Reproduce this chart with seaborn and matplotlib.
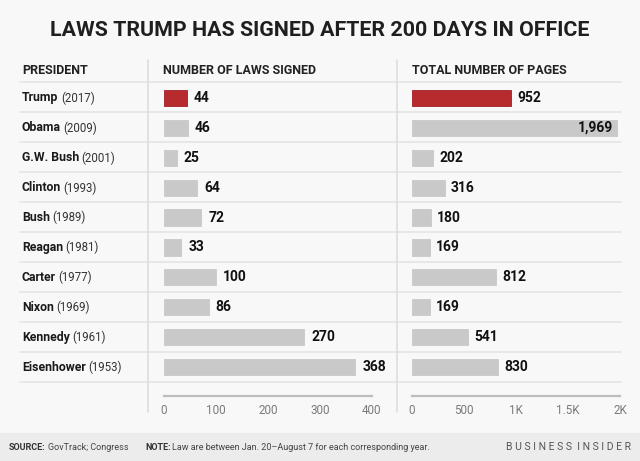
import matplotlib
matplotlib.use("Agg")
import matplotlib.pyplot as plt
from matplotlib.lines import Line2D
import seaborn as sns
import pandas as pd

presidents = ["Trump", "Obama", "G.W. Bush", "Clinton", "Bush", "Reagan",
              "Carter", "Nixon", "Kennedy", "Eisenhower"]
years = ["2017", "2009", "2001", "1993", "1989", "1981", "1977", "1969", "1961", "1953"]
laws = [44, 46, 25, 64, 72, 33, 100, 86, 270, 368]
pages = [952, 1969, 202, 316, 180, 169, 812, 169, 541, 830]
laws_ticks = [0, 100, 200, 300, 400]
laws_tick_labels = ["0", "100", "200", "300", "400"]
pages_ticks = [0, 500, 1000, 1500, 2000]
pages_tick_labels = ["0", "500", "1K", "1.5K", "2K"]

title = "LAWS TRUMP HAS SIGNED AFTER 200 DAYS IN OFFICE"

sns.set_theme(style="white")
plt.rcParams['font.family'] = ['Roboto', 'DejaVu Sans']

W, H = 640, 461
BG = "#f8f8f8"
RED = "#b72a2e"
GRAY = "#c9c9c9"
LINE = "#e4e4e4"

fig = plt.figure(figsize=(W / 100, H / 100), dpi=100, facecolor=BG)


def fx(px):
    return px / W


def fy(py):
    return 1 - py / H


df = pd.DataFrame({"president": presidents, "laws": laws, "pages": pages})
colors = [RED] + [GRAY] * (len(presidents) - 1)

row_top, row_bot = 83, 382


def make_ax(left, right):
    ax = fig.add_axes([fx(left), fy(row_bot), fx(right) - fx(left), (row_bot - row_top) / H])
    ax.set_facecolor("none")
    return ax


ax1 = make_ax(164, 372)
ax2 = make_ax(412, 620)

for ax, col, lim, ticks, tlabels in [
    (ax1, "laws", 400, laws_ticks, laws_tick_labels),
    (ax2, "pages", 2000, pages_ticks, pages_tick_labels),
]:
    sns.barplot(data=df, x=col, y="president", hue="president", palette=colors,
                legend=False, orient="h", width=0.54, ax=ax, saturation=1)
    for i, p in enumerate(ax.patches):
        p.set_edgecolor("#a01f23" if i == 0 else GRAY)
        p.set_linewidth(0.6)
    ax.set_xlim(0, lim)
    ax.set_ylim(len(presidents) - 0.5, -0.5)
    ax.set_xticks(ticks)
    ax.set_xticklabels(tlabels)
    ax.tick_params(axis="x", length=0, pad=6, labelsize=8.4, labelcolor="#7a7a7a")
    ax.set_yticks([])
    ax.set_xlabel("")
    ax.set_ylabel("")
    for s in ["top", "right", "left"]:
        ax.spines[s].set_visible(False)
    ax.spines["bottom"].set_position(("outward", 10))
    ax.spines["bottom"].set_color("#bdbdbd")
    ax.spines["bottom"].set_linewidth(1.6)

for i, v in enumerate(laws):
    ax1.annotate(f"{v:,}", (v, i), xytext=(7, 0), textcoords="offset pixels",
                 ha="left", va="center", fontsize=10, fontweight="bold", color="#111111")
for i, v in enumerate(pages):
    if v > 1500:
        ax2.annotate(f"{v:,}", (v, i), xytext=(-4, 0), textcoords="offset pixels",
                     ha="right", va="center", fontsize=10, fontweight="bold", color="#111111")
    else:
        ax2.annotate(f"{v:,}", (v, i), xytext=(6, 0), textcoords="offset pixels",
                     ha="left", va="center", fontsize=10, fontweight="bold", color="#111111")

# row separator lines
for k in range(len(presidents) + 1):
    y = 82 + k * 29.95
    fig.add_artist(Line2D([fx(20), fx(621)], [fy(y), fy(y)], color=LINE, lw=1.2))
# vertical separators
for x in [148, 397]:
    fig.add_artist(Line2D([fx(x), fx(x)], [fy(60), fy(412)], color="#dedede", lw=1.2))

# title
fig.text(0.5, fy(30), title, ha="center", va="center", fontsize=15.4,
         fontweight="bold", color="#1f1f1f")

# headers
for x, t in [(22, "PRESIDENT"), (163, "NUMBER OF LAWS SIGNED"), (412, "TOTAL NUMBER OF PAGES")]:
    fig.text(fx(x), fy(71), t, ha="left", va="center", fontsize=9, fontweight="bold",
             color="#222222")

# president names
fig.canvas.draw()
renderer = fig.canvas.get_renderer()
for i, (n, yr) in enumerate(zip(presidents, years)):
    y = 98 + i * 29.95
    t = fig.text(fx(22), fy(y), n, ha="left", va="center", fontsize=8.8,
                 fontweight="bold", color="#1a1a1a")
    bb = t.get_window_extent(renderer=renderer)
    fig.text(fx(bb.x1 + 2.5), fy(y), f"({yr})", ha="left", va="center", fontsize=8.3,
             color="#333333")

# footer
fig.add_artist(plt.Rectangle((0, 0), 1, fy(433), transform=fig.transFigure,
                             color="#ececec", zorder=0))
fy_f = fy(447)
t = fig.text(fx(9), fy_f, "SOURCE:", ha="left", va="center", fontsize=6.5,
             fontweight="bold", color="#333333")
bb = t.get_window_extent(renderer=renderer)
fig.text(fx(bb.x1 + 2), fy_f, "GovTrack; Congress", ha="left", va="center", fontsize=6.5,
         color="#444444")
t = fig.text(fx(145), fy_f, "NOTE:", ha="left", va="center", fontsize=6.5,
             fontweight="bold", color="#333333")
bb = t.get_window_extent(renderer=renderer)
fig.text(fx(bb.x1 + 2), fy_f, "Law are between Jan. 20\u2013August 7 for each corresponding year.",
         ha="left", va="center", fontsize=6.5, color="#444444")
fig.text(fx(631), fy_f, "B U S I N E S S  I N S I D E R", ha="right",
         va="center", fontsize=7.5, color="#555555")

fig.savefig("out.png", dpi=100, facecolor=BG)
